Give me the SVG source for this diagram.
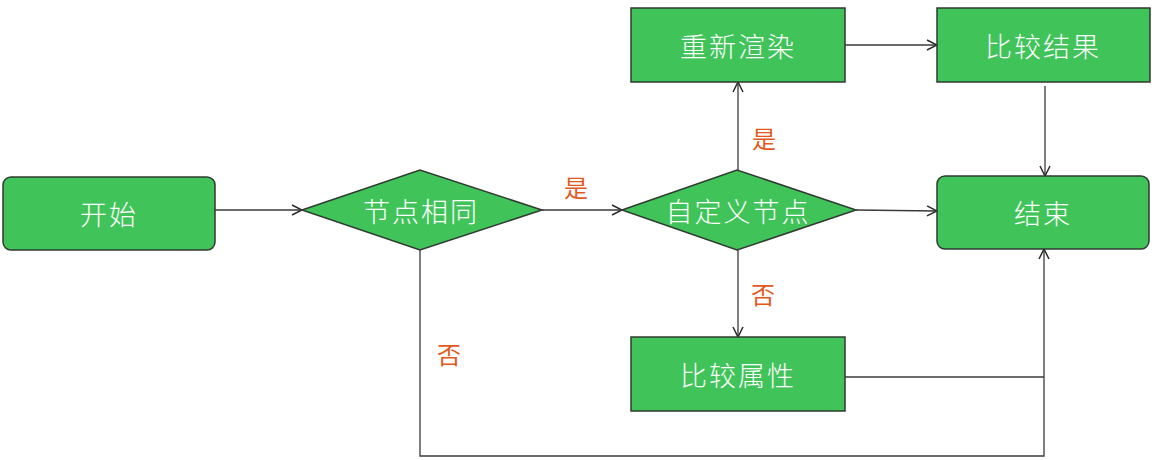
<svg xmlns="http://www.w3.org/2000/svg" width="1155" height="460" viewBox="0 0 1155 460">
<style>
.node{fill:#40C45A;stroke:#2f3a30;stroke-width:1.5}
.lbl{font-family:"Noto Sans CJK SC","Noto Sans",sans-serif;font-size:27px;font-weight:300;fill:#ffffff;text-anchor:middle;dominant-baseline:central;letter-spacing:2px}
.cond{font-family:"Noto Sans CJK SC","Noto Sans",sans-serif;font-size:24px;fill:#E4581C;text-anchor:middle;dominant-baseline:central}
.edge{fill:none;stroke:#3a3a3a;stroke-width:1.3}
</style>
<defs>
<marker id="arr" viewBox="0 0 12 12" refX="11" refY="6" markerWidth="12" markerHeight="12" markerUnits="userSpaceOnUse" orient="auto">
<path d="M1,1 L11,6 L1,11" fill="none" stroke="#2a2a2a" stroke-width="1.5"/>
</marker>
</defs>
<rect width="1155" height="460" fill="#ffffff"/>
<g id="edges">
<line class="edge" x1="215" y1="210" x2="302" y2="210" marker-end="url(#arr)"/>
<line class="edge" x1="542" y1="210" x2="622" y2="210" marker-end="url(#arr)"/>
<line class="edge" x1="738" y1="170" x2="738" y2="82" marker-end="url(#arr)"/>
<line class="edge" x1="856" y1="210" x2="937" y2="211" marker-end="url(#arr)"/>
<line class="edge" x1="738" y1="250" x2="738" y2="337" marker-end="url(#arr)"/>
<line class="edge" x1="845" y1="45" x2="937" y2="45" marker-end="url(#arr)"/>
<line class="edge" x1="1045" y1="86" x2="1045" y2="176" marker-end="url(#arr)"/>
<polyline class="edge" points="845,377 1044,377"/>
<polyline class="edge" points="420,250 420,456 1044,456 1044,249" marker-end="url(#arr)"/>
<text class="cond" x="576" y="186">是</text>
<text class="cond" x="764" y="137">是</text>
<text class="cond" x="763" y="293">否</text>
<text class="cond" x="449" y="353">否</text>
</g>
<g id="start">
<rect class="node" x="3" y="177" width="212" height="73" rx="8"/>
<text class="lbl" x="109" y="213">开始</text>
</g>
<g id="same">
<polygon class="node" points="302,210 420,170 542,210 420,250"/>
<text class="lbl" x="421" y="210">节点相同</text>
</g>
<g id="custom">
<polygon class="node" points="622,210 737,170 856,210 737,250"/>
<text class="lbl" x="738" y="210">自定义节点</text>
</g>
<g id="rerender">
<rect class="node" x="631" y="8" width="214" height="74"/>
<text class="lbl" x="738" y="45">重新渲染</text>
</g>
<g id="compareResult">
<rect class="node" x="937" y="8" width="213" height="74"/>
<text class="lbl" x="1043" y="45">比较结果</text>
</g>
<g id="end">
<rect class="node" x="937" y="176" width="212" height="73" rx="8"/>
<text class="lbl" x="1043" y="212">结束</text>
</g>
<g id="compareAttr">
<rect class="node" x="631" y="337" width="214" height="74"/>
<text class="lbl" x="738" y="374">比较属性</text>
</g>
</svg>
